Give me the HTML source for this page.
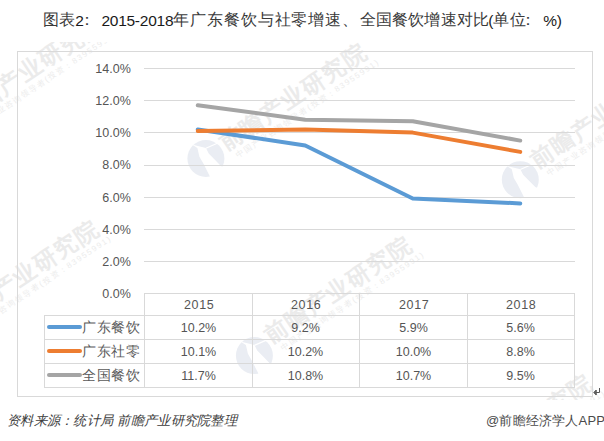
<!DOCTYPE html>
<html><head><meta charset="utf-8">
<style>
html,body{margin:0;padding:0;background:#fff;}
body{width:604px;height:441px;position:relative;overflow:hidden;font-family:"Liberation Sans",sans-serif;}
.a{position:absolute;white-space:nowrap;}
.title{top:10px;font-size:16px;line-height:20px;color:#3a3a3a;}
.tl{font-size:15.5px;top:10.6px;letter-spacing:-0.25px;color:#1a1a1a;}
.yl{right:473.2px;font-size:12.5px;line-height:14px;color:#555;text-align:right;letter-spacing:0px;}
.th{font-size:12.5px;line-height:14px;color:#555;text-align:center;width:107px;letter-spacing:0px;}
.yr{letter-spacing:0.7px;padding-left:0.7px}
.lg{font-size:14px;line-height:16px;color:#5a5a5a;left:82.3px;letter-spacing:0.6px;}
.src{left:7px;top:412.5px;font-size:13.3px;line-height:16px;color:#3c3c3c;font-style:italic;letter-spacing:0.3px;}
.app{left:486px;top:413px;font-size:13px;line-height:16px;color:#4a4a4a;letter-spacing:0.2px;}
</style></head><body>
<svg width="604" height="441" style="position:absolute;left:0;top:0">
<defs>
<clipPath id="cp"><rect x="0" y="42" width="604" height="358"/></clipPath>
<g id="logo"><circle cx="0" cy="0" r="18.5" fill="#eaedf3"/>
<path d="M-14,-14 L0,-10.5 L0.8,-9 L2.8,-5 L9,1.2 L15,7.4 L20,9.5 L20,20 L4.5,20 L3.5,17 L-2.8,4.6 L-6.5,-1.8 L-8.5,-10.5 Z" fill="#fff"/><path d="M0,-10.2 L12,-15.5" stroke="#fff" stroke-width="1.2"/></g>
<g id="wt">
<text x="-12" y="8.5" font-size="23" font-weight="bold" fill="#ebebeb" textLength="171" lengthAdjust="spacing" font-family="Liberation Sans">前瞻产业研究院</text>
<text x="-6" y="21" font-size="8" fill="#ececec" textLength="170" lengthAdjust="spacing" font-family="Liberation Sans">中国产业咨询领导者(投资：83955991)</text>
</g>
</defs>
<g clip-path="url(#cp)">
<use href="#logo" transform="translate(205.9,158.5)"/>
<use href="#logo" transform="translate(520.3,179.7)"/>
<use href="#logo" transform="translate(254.4,355.6)"/>
<use href="#wt" transform="translate(-31.5,109.5) rotate(-33.7)"/>
<use href="#wt" transform="translate(231,137.6) rotate(-33.7)"/>
<use href="#wt" transform="translate(542.2,155.4) rotate(-33.7)"/>
<use href="#wt" transform="translate(276,330) rotate(-33.7)"/>
<use href="#wt" transform="translate(456.6,468.6) rotate(-33.7)"/>
<use href="#wt" transform="translate(-37.1,314.1) rotate(-33.7)"/>
</g>
<rect x="17.5" y="51.5" width="575" height="345" fill="none" stroke="#d9d9d9" stroke-width="1"/>
<g stroke="#d9d9d9" stroke-width="1">
<line x1="144" y1="68.5" x2="575" y2="68.5"/>
<line x1="144" y1="100.5" x2="575" y2="100.5"/>
<line x1="144" y1="132.5" x2="575" y2="132.5"/>
<line x1="144" y1="165.5" x2="575" y2="165.5"/>
<line x1="144" y1="197.5" x2="575" y2="197.5"/>
<line x1="144" y1="229.5" x2="575" y2="229.5"/>
<line x1="144" y1="261.5" x2="575" y2="261.5"/>
<!-- table -->
<line x1="144" y1="293.5" x2="575" y2="293.5"/>
<line x1="44" y1="315.5" x2="575" y2="315.5"/>
<line x1="44" y1="339.5" x2="575" y2="339.5"/>
<line x1="44" y1="363.5" x2="575" y2="363.5"/>
<line x1="44" y1="387.5" x2="574.5" y2="387.5"/>
<line x1="44.5" y1="315" x2="44.5" y2="388"/>
<line x1="144.5" y1="293" x2="144.5" y2="388"/>
<line x1="252.5" y1="293" x2="252.5" y2="388"/>
<line x1="359.5" y1="293" x2="359.5" y2="388"/>
<line x1="467.5" y1="293" x2="467.5" y2="388"/>
<line x1="574.5" y1="293" x2="574.5" y2="388"/>
</g>
<g fill="none" stroke-width="4" stroke-linecap="round" stroke-linejoin="round">
<polyline stroke="#5B9BD5" points="197.75,129.4 305.25,145.5 412.75,198.5 520.25,203.4"/>
<polyline stroke="#ED7D31" points="197.75,131 305.25,129.4 412.75,132.6 520.25,151.9"/>
<polyline stroke="#A5A5A5" points="197.75,105.3 305.25,119.7 412.75,121.3 520.25,140.6"/>
<line x1="49" y1="327" x2="80" y2="327" stroke="#5B9BD5"/>
<line x1="49" y1="351" x2="80" y2="351" stroke="#ED7D31"/>
<line x1="49" y1="375" x2="80" y2="375" stroke="#A5A5A5"/>
</g>
<g stroke="#555" stroke-width="1" fill="none"><path d="M599.5,388 V392.5 H594"/><path d="M596.2,390 L593.8,392.5 L596.2,395 Z" fill="#666"/></g>
</svg>
<div class="a title" style="left:43px">图表</div>
<div class="a title tl" style="left:75.2px">2</div>
<div class="a title" style="left:79px">：</div>
<div class="a title tl" style="left:101.4px">2015-2018</div>
<div class="a title" style="left:173.2px;letter-spacing:0.9px">年广东餐饮与社零增速、</div>
<div class="a title" style="left:359.6px;letter-spacing:0.2px">全国餐饮增速对比</div>
<div class="a title tl" style="left:488.3px">(</div>
<div class="a title" style="left:492.5px;letter-spacing:1.2px">单位</div>
<div class="a title" style="left:520.2px">：</div>
<div class="a title tl" style="left:543.2px">%)</div>
<div class="a yl" style="top:61.8px">14.0%</div>
<div class="a yl" style="top:93.8px">12.0%</div>
<div class="a yl" style="top:125.8px">10.0%</div>
<div class="a yl" style="top:157.8px">8.0%</div>
<div class="a yl" style="top:190.8px">6.0%</div>
<div class="a yl" style="top:222.8px">4.0%</div>
<div class="a yl" style="top:254.8px">2.0%</div>
<div class="a yl" style="top:286.8px">0.0%</div>

<div class="a th yr" style="left:145px;top:298.0px">2015</div>
<div class="a th yr" style="left:252px;top:298.0px">2016</div>
<div class="a th yr" style="left:360px;top:298.0px">2017</div>
<div class="a th yr" style="left:467px;top:298.0px">2018</div>

<div class="a th" style="left:145px;top:321.0px">10.2%</div>
<div class="a th" style="left:252px;top:321.0px">9.2%</div>
<div class="a th" style="left:360px;top:321.0px">5.9%</div>
<div class="a th" style="left:467px;top:321.0px">5.6%</div>

<div class="a th" style="left:145px;top:345.0px">10.1%</div>
<div class="a th" style="left:252px;top:345.0px">10.2%</div>
<div class="a th" style="left:360px;top:345.0px">10.0%</div>
<div class="a th" style="left:467px;top:345.0px">8.8%</div>

<div class="a th" style="left:145px;top:369.0px">11.7%</div>
<div class="a th" style="left:252px;top:369.0px">10.8%</div>
<div class="a th" style="left:360px;top:369.0px">10.7%</div>
<div class="a th" style="left:467px;top:369.0px">9.5%</div>

<div class="a lg" style="top:319px">广东餐饮</div>
<div class="a lg" style="top:343px">广东社零</div>
<div class="a lg" style="top:367px">全国餐饮</div>

<div class="a src">资料来源：统计局 前瞻产业研究院整理</div>
<div class="a app">@前瞻经济学人APP</div>
</body></html>
